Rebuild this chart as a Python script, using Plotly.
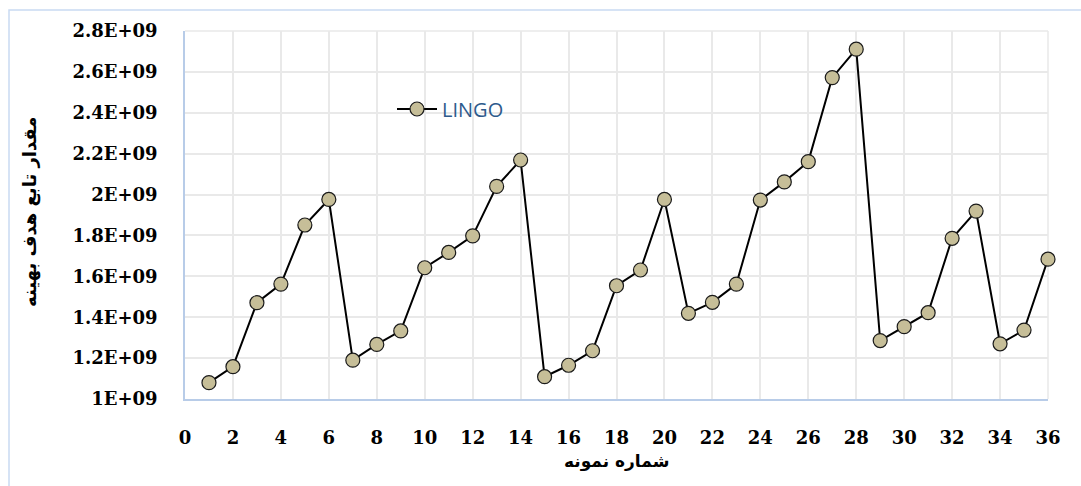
import plotly.graph_objects as go

# Sample number and optimal objective value (LINGO)
sample_no = list(range(1, 37))
lingo_values = [
    1.080e9, 1.158e9, 1.471e9, 1.562e9, 1.851e9, 1.976e9,
    1.190e9, 1.267e9, 1.333e9, 1.642e9, 1.717e9, 1.798e9,
    2.040e9, 2.169e9, 1.109e9, 1.165e9, 1.236e9, 1.554e9,
    1.631e9, 1.976e9, 1.419e9, 1.473e9, 1.562e9, 1.973e9,
    2.062e9, 2.161e9, 2.572e9, 2.711e9, 1.286e9, 1.354e9,
    1.422e9, 1.786e9, 1.919e9, 1.270e9, 1.337e9, 1.684e9,
]

y_tick_vals = [1.0e9, 1.2e9, 1.4e9, 1.6e9, 1.8e9, 2.0e9, 2.2e9, 2.4e9, 2.6e9, 2.8e9]
y_tick_text = ["1E+09", "1.2E+09", "1.4E+09", "1.6E+09", "1.8E+09",
               "2E+09", "2.2E+09", "2.4E+09", "2.6E+09", "2.8E+09"]
x_tick_vals = list(range(0, 37, 2))

W, H = 1081, 486
L, R, T, B = 185, 33, 31, 87
pw, ph = W - L - R, H - T - B

tick_font = dict(family="DejaVu Serif", size=18, color="#000000", weight="bold")
grid_col = "#E9E9E9"
axis_col = "#B8CCE8"

fig = go.Figure()
fig.add_trace(go.Scatter(
    x=sample_no, y=lingo_values, mode="lines+markers", name="LINGO",
    line=dict(color="#000000", width=2),
    marker=dict(size=14, color="#C6BE98", line=dict(color="#1A1A1A", width=1.2)),
    cliponaxis=False,
))

fig.update_layout(
    width=W, height=H,
    margin=dict(l=L, r=R, t=T, b=B, pad=0),
    paper_bgcolor="#FFFFFF", plot_bgcolor="#FFFFFF",
    showlegend=True,
    legend=dict(
        x=(392 - L) / pw, y=(H - B - 109) / ph, xanchor="left", yanchor="middle",
        bgcolor="rgba(0,0,0,0)", borderwidth=0,
        font=dict(family="Open Sans", size=20, color="#2E5A8C"),
        itemwidth=40,
    ),
    xaxis=dict(
        range=[0, 36], tickvals=x_tick_vals, tickfont=tick_font,
        showgrid=True, gridcolor=grid_col, gridwidth=1.5,
        showline=True, linecolor=axis_col, linewidth=1.5,
        zeroline=False, ticks="", ticklabelstandoff=22,
    ),
    yaxis=dict(
        range=[1.0e9, 2.8e9], tickvals=y_tick_vals, ticktext=y_tick_text,
        tickfont=tick_font,
        showgrid=True, gridcolor=grid_col, gridwidth=1.5,
        showline=True, linecolor=axis_col, linewidth=1.5,
        zeroline=False, ticks="", ticklabelstandoff=22,
    ),
    annotations=[
        dict(text="<b>شماره نمونه</b>", xref="paper", yref="paper",
             x=0.5, y=(H - B - 461) / ph, xanchor="center", yanchor="middle",
             showarrow=False, font=dict(family="DejaVu Sans", size=17, color="#000000")),
        dict(text="<b>مقدار تابع هدف بهینه</b>", xref="paper", yref="paper",
             x=(30 - L) / pw, y=(H - B - 212) / ph, xanchor="center", yanchor="middle",
             textangle=-90, showarrow=False,
             font=dict(family="DejaVu Sans", size=18, color="#000000")),
    ],
    shapes=[
        # light chart-area frame
        dict(type="rect", xref="paper", yref="paper",
             x0=(9 - L) / pw, x1=(W + 20 - L) / pw,
             y0=(H - B - (H + 20)) / ph, y1=(H - B - 10) / ph,
             line=dict(color="#C9DAF2", width=1.5), fillcolor="rgba(0,0,0,0)", layer="below"),
        # top and right gridlines bounding the plot area
        dict(type="line", xref="paper", yref="paper", x0=1, x1=1, y0=0, y1=1,
             line=dict(color=grid_col, width=1.5), layer="below"),
        dict(type="line", xref="paper", yref="paper", x0=0, x1=1, y0=1, y1=1,
             line=dict(color=grid_col, width=1.5), layer="below"),
    ],
)

fig.write_html("out.html")
